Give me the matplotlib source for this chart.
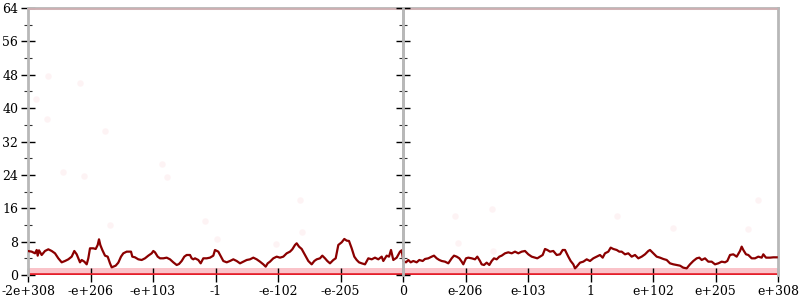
import matplotlib
matplotlib.use("Agg")
import matplotlib.pyplot as plt
from matplotlib.ticker import MultipleLocator

# ---- data ----
tick_pos = [-6, -5, -4, -3, -2, -1, 0, 1, 2, 3, 4, 5, 6]
tick_labels = ["-2e+308", "-e+206", "-e+103", "-1", "-e-102", "-e-205", "0",
               "e-206", "e-103", "1", "e+102", "e+205", "e+308"]

line_x = [-6.005, -5.941, -5.888, -5.861, -5.845, -5.824, -5.781, -5.728, -5.675, -5.621,
          -5.568, -5.515, -5.461, -5.408, -5.355, -5.301, -5.259, -5.221, -5.195, -5.168,
          -5.141, -5.099, -5.061, -5.035, -5.008, -4.955, -4.917, -4.885, -4.864, -4.843,
          -4.811, -4.768, -4.725, -4.688, -4.661, -4.635, -4.597, -4.555, -4.512, -4.475,
          -4.421, -4.352, -4.331, -4.288, -4.235, -4.181, -4.128, -4.075, -4.021, -3.995,
          -3.968, -3.925, -3.888, -3.835, -3.781, -3.728, -3.675, -3.621, -3.584, -3.541,
          -3.499, -3.461, -3.408, -3.381, -3.355, -3.328, -3.275, -3.237, -3.195, -3.141,
          -3.088, -3.035,
          -3.008, -2.955, -2.912, -2.875, -2.821, -2.768, -2.715, -2.661, -2.608, -2.555,
          -2.501, -2.448, -2.395, -2.341, -2.288, -2.235, -2.197, -2.165, -2.128, -2.075,
          -2.021, -1.968, -1.915, -1.861, -1.808, -1.771, -1.728, -1.701, -1.664, -1.621,
          -1.568, -1.515, -1.461, -1.419, -1.381, -1.328, -1.291, -1.248, -1.211, -1.168,
          -1.115, -1.077, -1.035, -0.981, -0.939, -0.901, -0.864, -0.821, -0.779, -0.741,
          -0.704, -0.661, -0.608, -0.555, -0.501, -0.448, -0.395, -0.341, -0.315, -0.261,
          -0.224, -0.192, -0.155, -0.101, -0.048, -0.021,
          0.005, 0.048, 0.085, 0.123, 0.165, 0.219, 0.261, 0.315, 0.352, 0.405,
          0.459, 0.496, 0.539, 0.581, 0.619, 0.672, 0.725, 0.779, 0.816, 0.859,
          0.901, 0.939, 0.965, 1.008, 1.045, 1.099, 1.152, 1.189, 1.232, 1.259,
          1.296, 1.339, 1.381, 1.419, 1.456, 1.499, 1.541, 1.579, 1.632, 1.685,
          1.739, 1.792, 1.845, 1.899, 1.952, 2.005, 2.059, 2.112, 2.149, 2.192,
          2.235, 2.272, 2.309, 2.352, 2.405, 2.459, 2.512, 2.555, 2.592, 2.645,
          2.683, 2.725, 2.752, 2.779, 2.832, 2.885, 2.939, 2.992, 3.045,
          3.099, 3.152, 3.195, 3.232, 3.285, 3.323, 3.365, 3.419, 3.461, 3.499,
          3.552, 3.605, 3.659, 3.712, 3.765, 3.819, 3.872, 3.925, 3.952, 4.005,
          4.059, 4.112, 4.165, 4.219, 4.272, 4.325, 4.379, 4.432, 4.485, 4.539,
          4.592, 4.645, 4.699, 4.741, 4.779, 4.832, 4.885, 4.939, 4.992, 5.045,
          5.099, 5.152, 5.189, 5.232, 5.285, 5.339, 5.392, 5.419, 5.445, 5.488,
          5.525, 5.579, 5.632, 5.685, 5.739, 5.765, 5.808, 5.872, 5.925, 5.979]

line_y = [5.76, 5.60, 5.20, 6.00, 4.64, 5.92, 4.80, 5.76, 6.16, 5.76,
          5.20, 4.00, 3.04, 3.36, 3.76, 4.40, 5.76, 4.96, 4.00, 3.04,
          3.60, 3.20, 2.56, 4.00, 6.40, 6.40, 6.24, 7.20, 8.56, 7.20,
          6.00, 4.64, 4.40, 2.80, 1.84, 2.00, 2.24, 2.96, 4.40, 5.20,
          5.60, 5.60, 4.40, 4.24, 3.76, 3.60, 4.00, 4.64, 5.20, 5.76,
          5.44, 4.40, 4.00, 4.00, 4.16, 3.76, 3.04, 2.40, 2.64, 3.36,
          4.40, 4.80, 4.80, 4.00, 3.76, 4.00, 3.60, 2.80, 4.00, 4.00,
          4.16, 4.64,
          6.00, 5.60, 4.40, 3.36, 3.04, 3.36, 3.76, 3.36, 2.80, 3.20,
          3.60, 3.76, 4.16, 3.76, 3.20, 2.56, 2.00, 2.80, 3.20, 4.00,
          4.40, 4.16, 4.40, 5.20, 5.60, 6.16, 7.20, 7.60, 6.80, 6.24,
          4.80, 3.36, 2.56, 3.36, 3.76, 4.00, 4.64, 4.00, 3.36, 2.80,
          3.60, 4.00, 7.20, 7.84, 8.64, 8.24, 8.16, 6.40, 4.40, 3.60,
          3.04, 2.80, 2.56, 4.00, 3.76, 4.16, 3.76, 4.40, 3.36, 4.64,
          4.40, 6.00, 3.60, 4.16, 5.60, 5.92,
          3.36, 3.04, 3.60, 3.04, 3.36, 3.04, 3.60, 3.36, 3.84, 4.00,
          4.40, 4.64, 4.00, 3.60, 3.36, 3.20, 2.80, 4.00, 4.64, 4.40,
          4.00, 3.20, 2.56, 4.00, 4.16, 4.00, 3.76, 4.40, 3.36, 2.56,
          2.40, 2.96, 2.40, 3.36, 4.00, 3.76, 4.40, 4.64, 5.20, 5.44,
          5.20, 5.60, 5.20, 5.60, 5.76, 4.96, 4.40, 4.16, 4.00, 4.40,
          4.80, 6.24, 6.00, 5.60, 5.76, 4.80, 4.96, 6.00, 6.00, 4.40,
          3.36, 2.56, 1.60, 2.00, 2.96, 3.20, 3.76, 3.36, 4.00,
          4.40, 4.80, 4.16, 5.20, 5.60, 6.56, 6.24, 6.00, 5.60, 5.60,
          4.96, 5.20, 4.40, 4.80, 4.00, 4.40, 4.96, 5.76, 6.00, 5.20,
          4.40, 4.16, 3.84, 3.60, 2.80, 2.56, 2.40, 2.24, 1.76, 1.60,
          2.56, 3.36, 4.00, 4.16, 3.60, 4.00, 3.20, 3.20, 2.56, 2.80,
          3.20, 3.04, 3.36, 4.80, 4.96, 4.40, 5.76, 6.80, 6.00, 4.96,
          4.80, 4.00, 4.00, 4.40, 4.16, 4.96, 4.16, 4.16, 4.24, 4.24]

# faint scattered points
dots_x = [-5.68, -5.17, -5.87, -5.70, -4.77, -5.44, -5.10, -3.86, -3.78, -4.69,
          -3.17, -2.97, -2.03, -1.65, -1.62, 0.83, 1.42, 0.88, 1.44, 3.42,
          4.32, 5.52, 5.68]
dots_y = [47.7, 46.0, 42.2, 37.4, 34.5, 24.7, 23.7, 26.6, 23.5, 12.0,
          12.9, 8.6, 7.4, 18.0, 10.3, 14.1, 15.8, 7.7, 5.7, 14.1,
          11.3, 11.0, 18.0]

# dense band of points near zero and at the top
band_x = [-6, 6]
band_lo = [0.0, 0.0]
band_hi = [1.6, 1.6]
top_x = [-6, 6]
top_y = [64, 64]
zero_y = [0, 0]

# ---- plot ----
fig = plt.figure(figsize=(8, 3), dpi=100)
ax = fig.add_axes([0.035, 0.0833, 0.9375, 0.89])

ax.fill_between(band_x, band_lo, band_hi, color="#f03a4c", alpha=0.3, lw=0, zorder=1)
ax.plot(band_x, zero_y, color="#e41e2a", lw=2.6, zorder=2, solid_capstyle="butt")
ax.plot(top_x, top_y, color="#f4a0a8", lw=2.2, alpha=0.35, zorder=3)
ax.scatter(dots_x, dots_y, s=22, color="#f06070", alpha=0.07, lw=0, zorder=1)

ax.plot(line_x, line_y, color="#8b0000", lw=1.6, zorder=4)

ax.axvline(0, color="#b8b8b8", lw=2, zorder=0)

ax.set_xlim(-6, 6)
ax.set_ylim(0, 64)
ax.set_xticks(tick_pos)
ax.set_xticklabels(tick_labels, fontfamily="DejaVu Serif", fontsize=9)
ax.yaxis.set_major_locator(MultipleLocator(8))
ax.yaxis.set_minor_locator(MultipleLocator(4))
for lbl in ax.get_yticklabels():
    lbl.set_fontfamily("DejaVu Serif")
    lbl.set_fontsize(9)

for side in ["left", "right", "top"]:
    ax.spines[side].set_color("#b8b8b8")
    ax.spines[side].set_linewidth(2)
ax.spines["bottom"].set_visible(False)

ax.tick_params(axis="y", which="major", direction="inout", length=10, width=1, color="black",
               right=True, pad=2)
ax.tick_params(axis="y", which="minor", direction="inout", length=6, width=0.8, color="#333333",
               right=True)
ax.tick_params(axis="x", which="major", direction="inout", length=10, width=1, color="black", pad=2)

# centre axis ticks
ax2 = ax.twinx()
ax2.set_ylim(0, 64)
ax2.spines["right"].set_position(("axes", 0.5))
ax2.spines["right"].set_color("#b8b8b8")
ax2.spines["right"].set_linewidth(2)
for side in ["left", "top", "bottom"]:
    ax2.spines[side].set_visible(False)
ax2.yaxis.set_major_locator(MultipleLocator(8))
ax2.yaxis.set_minor_locator(MultipleLocator(4))
ax2.tick_params(axis="y", which="major", direction="inout", length=10, width=1, color="black",
                labelright=False)
ax2.tick_params(axis="y", which="minor", direction="inout", length=6, width=0.8, color="#333333")

fig.savefig("out.png", dpi=100)
